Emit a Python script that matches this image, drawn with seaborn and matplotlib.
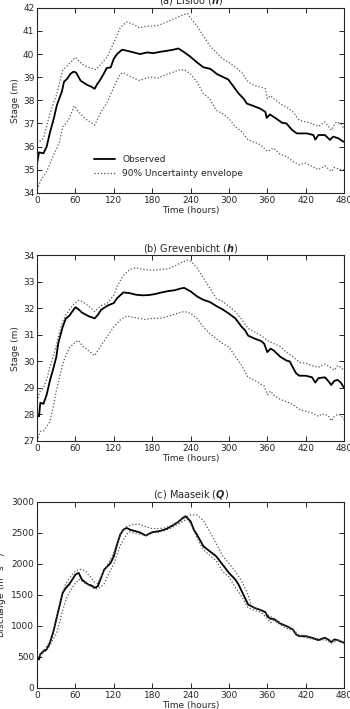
import numpy as np
import pandas as pd
import matplotlib
matplotlib.use("Agg")
import matplotlib.pyplot as plt
import seaborn as sns

# ---- (a) Elsloo stage ----
a_obs_t = [0, 3, 10, 15, 20, 26, 31, 39, 42, 47, 52, 57, 61, 68, 78, 84, 90, 94, 99, 104, 109, 115,
           120, 125, 133, 141, 151, 161, 172, 182, 193, 203, 213, 221, 229, 239, 250, 260, 271, 281,
           292, 299, 307, 315, 323, 328, 338, 349, 357, 359, 364, 375, 383, 390, 398, 406, 411, 422,
           432, 435, 440, 450, 458, 463, 471, 479]
a_obs = [35.29, 35.75, 35.71, 36.0, 36.6, 37.2, 37.8, 38.4, 38.8, 38.93, 39.14, 39.24, 39.2, 38.85,
         38.67, 38.6, 38.5, 38.7, 38.9, 39.14, 39.4, 39.42, 39.8, 40.0, 40.19, 40.14, 40.07, 40.0,
         40.07, 40.04, 40.1, 40.14, 40.19, 40.24, 40.1, 39.9, 39.64, 39.43, 39.36, 39.14, 38.99,
         38.9, 38.6, 38.3, 38.07, 37.86, 37.76, 37.64, 37.5, 37.24, 37.39, 37.19, 37.03, 37.0, 36.74,
         36.57, 36.57, 36.57, 36.5, 36.3, 36.5, 36.5, 36.29, 36.43, 36.36, 36.21]
a_up_t = [0, 10, 20, 30, 40, 50, 60, 70, 80, 92, 100, 110, 120, 130, 140, 150, 160, 170, 180, 190,
          200, 210, 220, 235, 240, 250, 260, 270, 280, 290, 300, 310, 320, 330, 340, 350, 357, 360,
          365, 370, 380, 390, 400, 410, 420, 430, 440, 450, 460, 468, 475, 480]
a_up = [36.14, 36.36, 37.43, 38.2, 39.3, 39.57, 39.86, 39.57, 39.43, 39.33, 39.57, 39.9, 40.5, 41.14,
        41.39, 41.29, 41.14, 41.2, 41.21, 41.24, 41.36, 41.47, 41.6, 41.76, 41.57, 41.21, 40.79,
        40.36, 40.07, 39.8, 39.64, 39.43, 39.2, 38.8, 38.64, 38.57, 38.5, 38.07, 38.2, 38.07, 37.86,
        37.71, 37.5, 37.14, 37.07, 37.0, 36.86, 37.07, 36.71, 37.07, 37.0, 36.76]
a_lo_t = [0, 5, 15, 25, 35, 40, 45, 50, 58, 65, 75, 90, 100, 110, 120, 130, 135, 145, 160, 170, 180,
          190, 200, 210, 220, 230, 240, 250, 260, 270, 280, 290, 300, 310, 320, 330, 340, 350, 360,
          370, 380, 390, 400, 410, 420, 430, 440, 450, 460, 465, 475, 480]
a_lo = [34.14, 34.5, 34.93, 35.57, 36.2, 36.86, 37.0, 37.21, 37.76, 37.5, 37.21, 36.93, 37.5, 37.93,
        38.57, 39.14, 39.19, 39.04, 38.86, 38.96, 39.0, 38.96, 39.1, 39.19, 39.29, 39.33, 39.14,
        38.79, 38.29, 38.07, 37.57, 37.43, 37.21, 36.86, 36.64, 36.29, 36.19, 36.07, 35.79, 35.93,
        35.67, 35.57, 35.36, 35.21, 35.29, 35.14, 35.0, 35.17, 34.93, 35.1, 35.0, 35.0]

# ---- (b) Grevenbicht stage ----
b_obs_t = [0, 3, 5, 10, 15, 20, 25, 30, 33, 40, 45, 50, 55, 60, 65, 70, 80, 90, 95, 100, 110, 120,
           125, 135, 145, 155, 165, 175, 185, 195, 205, 215, 225, 230, 240, 250, 260, 270, 280, 290,
           300, 310, 320, 325, 330, 340, 350, 355, 360, 365, 370, 380, 390, 395, 400, 405, 410, 420,
           430, 435, 440, 450, 455, 460, 465, 470, 475, 480]
b_obs = [27.93, 27.93, 28.44, 28.4, 28.75, 29.27, 29.7, 30.16, 30.67, 31.3, 31.62, 31.71, 31.88,
         32.04, 31.96, 31.84, 31.71, 31.62, 31.75, 31.94, 32.1, 32.2, 32.38, 32.6, 32.57, 32.51,
         32.49, 32.5, 32.54, 32.6, 32.65, 32.68, 32.75, 32.77, 32.64, 32.45, 32.32, 32.24, 32.09,
         31.96, 31.8, 31.62, 31.3, 31.18, 30.97, 30.86, 30.77, 30.67, 30.35, 30.48, 30.41, 30.18,
         30.03, 30.0, 29.77, 29.55, 29.46, 29.46, 29.4, 29.2, 29.37, 29.4, 29.27, 29.11, 29.27,
         29.3, 29.2, 29.0]
b_up_t = [0, 5, 10, 15, 20, 25, 30, 35, 40, 45, 55, 65, 70, 80, 90, 95, 100, 110, 120, 125, 135, 145,
          155, 165, 175, 185, 195, 205, 215, 225, 235, 240, 250, 260, 270, 280, 290, 300, 310, 320,
          330, 340, 350, 360, 370, 380, 390, 400, 410, 420, 430, 440, 450, 460, 465, 470, 475, 480]
b_up = [28.5, 28.9, 29.0, 29.33, 29.78, 30.16, 30.6, 31.1, 31.5, 31.75, 32.1, 32.3, 32.26, 32.1,
        31.88, 32.0, 32.1, 32.2, 32.5, 32.83, 33.24, 33.47, 33.53, 33.47, 33.44, 33.44, 33.47,
        33.49, 33.59, 33.72, 33.82, 33.78, 33.53, 33.15, 32.77, 32.38, 32.26, 32.07, 31.88, 31.58,
        31.24, 31.11, 30.98, 30.79, 30.67, 30.56, 30.35, 30.18, 29.97, 29.93, 29.84, 29.78, 29.9,
        29.75, 29.67, 29.84, 29.78, 29.65]
b_lo_t = [0, 5, 10, 15, 20, 25, 30, 35, 40, 45, 50, 60, 65, 70, 80, 90, 100, 110, 120, 130, 140, 150,
          160, 170, 180, 190, 200, 210, 220, 230, 240, 250, 260, 270, 280, 290, 300, 310, 320, 330,
          340, 350, 355, 360, 365, 370, 380, 390, 400, 410, 420, 430, 440, 445, 455, 460, 465, 470,
          475, 480]
b_lo = [27.0, 27.36, 27.38, 27.55, 27.74, 28.25, 28.89, 29.39, 29.9, 30.22, 30.5, 30.73, 30.79,
        30.6, 30.41, 30.22, 30.6, 30.95, 31.3, 31.56, 31.71, 31.66, 31.62, 31.58, 31.62, 31.62,
        31.66, 31.74, 31.81, 31.88, 31.81, 31.62, 31.3, 31.05, 30.86, 30.67, 30.54, 30.18, 29.84,
        29.39, 29.29, 29.14, 29.08, 28.75, 28.88, 28.73, 28.57, 28.48, 28.38, 28.19, 28.12, 28.06,
        27.93, 28.02, 27.97, 27.76, 27.93, 28.0, 27.97, 27.8]

# ---- (c) Maaseik discharge ----
c_obs_t = [0, 3, 5, 10, 15, 20, 25, 30, 35, 40, 45, 50, 55, 60, 65, 70, 75, 80, 85, 90, 95, 100, 105,
           110, 115, 120, 125, 130, 135, 140, 145, 150, 160, 170, 180, 190, 200, 210, 220, 228, 232,
           240, 245, 250, 260, 270, 280, 290, 300, 310, 315, 320, 330, 340, 350, 357, 360, 365, 370,
           380, 390, 400, 405, 410, 420, 430, 440, 445, 450, 455, 460, 465, 470, 480]
c_obs = [500, 457, 538, 591, 618, 726, 887, 1102, 1317, 1532, 1613, 1667, 1747, 1828, 1855, 1747,
         1704, 1667, 1651, 1613, 1640, 1774, 1909, 1962, 2016, 2124, 2312, 2473, 2554, 2581, 2554,
         2538, 2511, 2457, 2511, 2527, 2554, 2608, 2672, 2742, 2769, 2688, 2554, 2473, 2285, 2204,
         2124, 1989, 1855, 1747, 1667, 1559, 1344, 1290, 1253, 1220, 1156, 1113, 1113, 1038, 995,
         941, 860, 833, 833, 806, 769, 790, 806, 780, 737, 780, 769, 726]
c_up_t = [0, 10, 20, 25, 30, 35, 40, 45, 50, 55, 60, 65, 70, 75, 80, 85, 90, 95, 100, 110, 120, 130,
          140, 150, 160, 170, 180, 190, 200, 210, 220, 230, 240, 250, 260, 270, 280, 290, 300, 310,
          320, 330, 335, 340, 350, 360, 370, 380, 390, 400, 410, 420, 430, 440, 450, 460, 470, 480]
c_up = [500, 600, 740, 900, 1130, 1350, 1550, 1680, 1760, 1830, 1880, 1910, 1910, 1890, 1830, 1770,
        1700, 1680, 1800, 1980, 2180, 2480, 2600, 2640, 2640, 2600, 2570, 2570, 2580, 2620, 2680,
        2740, 2790, 2790, 2700, 2520, 2330, 2130, 2010, 1880, 1720, 1500, 1320, 1290, 1250, 1180,
        1120, 1050, 990, 940, 850, 840, 810, 790, 800, 760, 770, 740]
c_lo_t = [0, 10, 20, 25, 30, 35, 40, 45, 50, 55, 60, 65, 70, 80, 90, 95, 100, 105, 110, 120, 130, 140,
          145, 150, 160, 170, 180, 190, 200, 210, 220, 230, 235, 240, 250, 260, 270, 280, 290, 300,
          310, 320, 330, 340, 350, 360, 365, 370, 380, 390, 400, 410, 420, 430, 440, 450, 460, 470,
          480]
c_lo = [480, 560, 680, 780, 870, 1050, 1250, 1420, 1530, 1620, 1690, 1750, 1720, 1660, 1600, 1600,
        1630, 1680, 1800, 2000, 2300, 2480, 2520, 2500, 2480, 2460, 2500, 2510, 2540, 2580, 2640,
        2700, 2720, 2650, 2420, 2230, 2140, 2050, 1880, 1790, 1620, 1470, 1290, 1250, 1220, 1120,
        1050, 1090, 1020, 960, 920, 830, 810, 790, 760, 780, 720, 760, 720]

titles = [r"(a) Elsloo ($\mathbfit{h}$)", r"(b) Grevenbicht ($\mathbfit{h}$)",
          r"(c) Maaseik ($\mathbfit{Q}$)"]
ylabels = ["Stage (m)", "Stage (m)", r"Discharge (m$^3$ s$^{-1}$)"]
ylims = [(34, 42), (27, 34), (0, 3000)]
yticks = [np.arange(34, 43, 1), np.arange(27, 35, 1), np.arange(0, 3001, 500)]
xticks = np.arange(0, 481, 60)

panels = [
    (a_obs_t, a_obs, a_up_t, a_up, a_lo_t, a_lo),
    (b_obs_t, b_obs, b_up_t, b_up, b_lo_t, b_lo),
    (c_obs_t, c_obs, c_up_t, c_up, c_lo_t, c_lo),
]

sns.set_theme(style="ticks")
plt.rcParams.update({
    "font.family": ["DejaVu Sans"],
    "font.size": 6.5,
    "xtick.direction": "in",
    "ytick.direction": "in",
    "xtick.top": True,
    "ytick.right": True,
    "xtick.major.size": 3.5,
    "ytick.major.size": 3.5,
    "axes.linewidth": 0.8,
    "mathtext.fontset": "dejavusans",
})

fig = plt.figure(figsize=(3.5, 7.09), dpi=100)
boxes = [
    [0.106, 0.728, 0.877, 0.261],
    [0.106, 0.378, 0.877, 0.262],
    [0.106, 0.030, 0.877, 0.262],
]

for i, (ot, ov, ut, uv, lt, lv) in enumerate(panels):
    ax = fig.add_axes(boxes[i])
    df_obs = pd.DataFrame({"t": ot, "v": ov})
    df_up = pd.DataFrame({"t": ut, "v": uv})
    df_lo = pd.DataFrame({"t": lt, "v": lv})
    sns.lineplot(data=df_obs, x="t", y="v", ax=ax, color="black", linewidth=1.3,
                 label="Observed" if i == 0 else None)
    sns.lineplot(data=df_up, x="t", y="v", ax=ax, color="#555555", linewidth=0.9,
                 linestyle=(0, (1, 1.6)),
                 label="90% Uncertainty envelope" if i == 0 else None)
    sns.lineplot(data=df_lo, x="t", y="v", ax=ax, color="#555555", linewidth=0.9,
                 linestyle=(0, (1, 1.6)))
    ax.set_xlim(0, 480)
    ax.set_ylim(*ylims[i])
    ax.set_xticks(xticks)
    ax.set_yticks(yticks[i])
    ax.tick_params(axis="both", labelsize=6.5, pad=2, width=0.7)
    ax.set_xlabel("Time (hours)", fontsize=6.5, labelpad=1)
    ax.set_ylabel(ylabels[i], fontsize=6.5, labelpad=2)
    ax.set_title(titles[i], fontsize=7, pad=3)
    if i == 0:
        ax.legend(loc="lower left", bbox_to_anchor=(0.16, 0.035), frameon=False,
                  fontsize=6.5, handlelength=2.3, labelspacing=0.55)
    elif ax.get_legend() is not None:
        ax.get_legend().remove()

fig.savefig("out.png", dpi=100)
